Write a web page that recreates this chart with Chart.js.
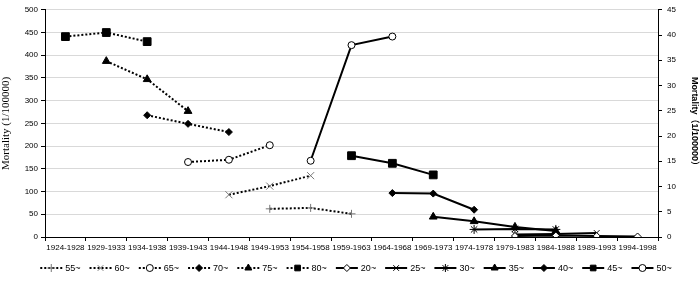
<!DOCTYPE html>
<html>
<head>
<meta charset="utf-8">
<script src="https://cdn.jsdelivr.net/npm/chart.js@4"></script>
<style>
  html, body { margin: 0; padding: 0; background: #fff; }
  #wrap { width: 700px; height: 281px; }
</style>
</head>
<body>
<div id="wrap"><canvas id="mort" width="700" height="281"></canvas></div>
<script>
// periods on the x axis
const periods = ['1924-1928', '1929-1933', '1934-1938', '1939-1943', '1944-1948',
  '1949-1953', '1954-1958', '1959-1963', '1964-1968', '1969-1973',
  '1974-1978', '1979-1983', '1984-1988', '1989-1993', '1994-1998'];

// left axis cohorts (dotted)
const age55 = [null, null, null, null, null, 62, 64, 51, null, null, null, null, null, null, null];
const age60 = [null, null, null, null, 93, 112, 135, null, null, null, null, null, null, null, null];
const age65 = [null, null, null, 165, 170, 202, null, null, null, null, null, null, null, null, null];
const age70 = [null, null, 268, 249, 231, null, null, null, null, null, null, null, null, null, null];
const age75 = [null, 387, 347, 277, null, null, null, null, null, null, null, null, null, null, null];
const age80 = [441, 450, 430, null, null, null, null, null, null, null, null, null, null, null, null];

// right axis cohorts (solid)
const age20 = [null, null, null, null, null, null, null, null, null, null, null, 0.2, 0.3, 0.2, 0.1];
const age25 = [null, null, null, null, null, null, null, null, null, null, null, 0.5, 0.6, 0.8, null];
const age30 = [null, null, null, null, null, null, null, null, null, null, 1.5, 1.6, 1.5, null, null];
const age35 = [null, null, null, null, null, null, null, null, null, 4.0, 3.1, 2.0, 1.2, null, null];
const age40 = [null, null, null, null, null, null, null, null, 8.7, 8.6, 5.4, null, null, null, null];
const age45 = [null, null, null, null, null, null, null, 16.1, 14.6, 12.3, null, null, null, null, null];
const age50 = [null, null, null, null, null, null, 15.1, 38.0, 39.7, null, null, null, null, null, null];

const leftTicks = [0, 50, 100, 150, 200, 250, 300, 350, 400, 450, 500];
const rightTicks = [0, 5, 10, 15, 20, 25, 30, 35, 40, 45];

function dotted(label, data, style, color, radius, fill) {
  return {
    label, data, yAxisID: 'y',
    borderColor: '#000', borderWidth: 2, borderDash: [2, 2],
    pointStyle: style, pointRadius: radius, pointBorderColor: color,
    pointBackgroundColor: fill, pointBorderWidth: 1, spanGaps: false
  };
}
function solid(label, data, style, radius, fill) {
  return {
    label, data, yAxisID: 'y2',
    borderColor: '#000', borderWidth: 2,
    pointStyle: style, pointRadius: radius, pointBorderColor: '#000',
    pointBackgroundColor: fill, pointBorderWidth: 1, spanGaps: false
  };
}

const datasets = [
  dotted('55~', age55, 'cross', '#777', 4, '#777'),
  dotted('60~', age60, 'crossRot', '#777', 5, '#777'),
  dotted('65~', age65, 'circle', '#000', 3.5, '#fff'),
  dotted('70~', age70, 'rectRot', '#000', 3.5, '#000'),
  dotted('75~', age75, 'triangle', '#000', 4.5, '#000'),
  dotted('80~', age80, 'rect', '#000', 5.5, '#000'),
  solid('20~', age20, 'rectRot', 3.5, '#fff'),
  solid('25~', age25, 'crossRot', 4, '#000'),
  solid('30~', age30, 'star', 4.5, '#000'),
  solid('35~', age35, 'triangle', 4.5, '#000'),
  solid('40~', age40, 'rectRot', 3.5, '#000'),
  solid('45~', age45, 'rect', 5.5, '#000'),
  solid('50~', age50, 'circle', 3.5, '#fff')
];

// legend with a line sample and marker for every series
const lineLegend = {
  id: 'lineLegend',
  afterDraw(chart) {
    const ctx = chart.ctx;
    ctx.save();
    ctx.font = '9px "Liberation Sans", Arial, sans-serif';
    ctx.textBaseline = 'middle';
    const sample = 22, gap = 3, space = 9;
    let total = 0;
    datasets.forEach(d => { total += sample + gap + ctx.measureText(d.label).width + space; });
    total -= space;
    let x = 356 - total / 2;
    const y = 268;
    datasets.forEach(d => {
      ctx.strokeStyle = '#000';
      ctx.lineWidth = d.borderWidth;
      ctx.setLineDash(d.borderDash || []);
      ctx.beginPath();
      ctx.moveTo(x, y);
      ctx.lineTo(x + sample, y);
      ctx.stroke();
      ctx.setLineDash([]);
      ctx.lineWidth = 1;
      ctx.strokeStyle = d.pointBorderColor;
      ctx.fillStyle = d.pointBackgroundColor;
      Chart.helpers.drawPoint(ctx, { pointStyle: d.pointStyle, radius: Math.min(d.pointRadius, 4), rotation: 0, borderWidth: 1 }, x + sample / 2, y);
      ctx.fillStyle = '#000';
      ctx.fillText(d.label, x + sample + gap, y + 1);
      x += sample + gap + ctx.measureText(d.label).width + space;
    });
    ctx.restore();
  }
};

const tickFont = { family: '"Liberation Sans", Arial, sans-serif', size: 8 };

new Chart(document.getElementById('mort'), {
  type: 'line',
  data: { labels: periods, datasets },
  options: {
    responsive: false,
    animation: false,
    layout: { padding: { top: 2, bottom: 24, left: 0, right: 0 } },
    plugins: { legend: { display: false }, tooltip: { enabled: false } },
    scales: {
      x: {
        offset: true,
        grid: { offset: true, drawOnChartArea: false, drawTicks: true, tickLength: 4, tickColor: '#000' },
        border: { color: '#000', width: 1 },
        ticks: { color: '#000', font: tickFont, maxRotation: 0, autoSkip: false, padding: 2 },
        afterFit: s => { s.height = 20; }
      },
      y: {
        position: 'left', min: 0, max: 500,
        afterBuildTicks: s => { s.ticks = leftTicks.map(v => ({ value: v })); },
        grid: { color: '#d9d9d9', lineWidth: 1, tickLength: 4, tickColor: '#000' },
        border: { color: '#000', width: 1 },
        ticks: { color: '#000', font: tickFont, padding: 3 },
        title: { display: true, text: 'Mortality (1/100000)', color: '#000',
          font: { family: '"Liberation Serif", "Times New Roman", serif', size: 11 }, padding: 0 },
        afterFit: s => { s.width = 45; }
      },
      y2: {
        position: 'right', min: 0, max: 45,
        afterBuildTicks: s => { s.ticks = rightTicks.map(v => ({ value: v })); },
        grid: { drawOnChartArea: false, tickLength: 4, tickColor: '#000' },
        border: { color: '#000', width: 1 },
        ticks: { color: '#000', font: tickFont, padding: 5 },
        title: { display: true, text: 'Mortality（1/100000）', color: '#000',
          font: { family: '"Liberation Sans", "Noto Sans CJK JP", sans-serif', size: 9, weight: 'bold' }, padding: 0 },
        afterFit: s => { s.width = 42; }
      }
    }
  },
  plugins: [lineLegend]
});
</script>
</body>
</html>
